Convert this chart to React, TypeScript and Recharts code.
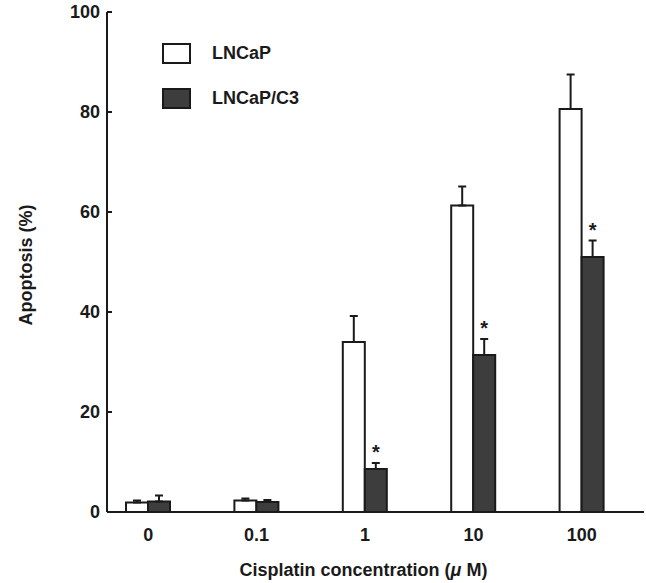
import { BarChart, Bar, XAxis, YAxis, ErrorBar, Legend, LabelList } from "recharts";

const categories = ["0", "0.1", "1", "10", "100"];
const lncap = [1.9, 2.3, 34, 61.3, 80.6];
const lncapErr = [0.4, 0.4, 5.2, 3.8, 6.9];
const lncapC3 = [2.1, 2.0, 8.6, 31.4, 51];
const lncapC3Err = [1.2, 0.4, 1.2, 3.2, 3.3];
const significant = [false, false, true, true, true];
const yTicks = [0, 20, 40, 60, 80, 100];
const seriesNames = ["LNCaP", "LNCaP/C3"];

const data = categories.map((c, i) => ({
  conc: c,
  lncap: lncap[i],
  lncapErr: [0, lncapErr[i]],
  c3: lncapC3[i],
  c3Err: [0, lncapC3Err[i]],
  // invisible stacked piece up to the top of the error bar, carries the star
  starGap: lncapC3Err[i],
  sig: significant[i],
}));

const font = "'Liberation Sans', Arial, sans-serif";
const ink = "#1a1a1a";

function LegendBox({ payload }: any) {
  const items = (payload || []).filter((p: any) => seriesNames.includes(p.value));
  return (
    <div style={{ fontFamily: font, fontWeight: 700, fontSize: 18, color: ink }}>
      {items.map((p: any, i: number) => (
        <div key={i} style={{ display: "flex", alignItems: "center", height: 45 }}>
          <span
            style={{
              display: "inline-block",
              width: 25,
              height: 17,
              background: p.payload.fill,
              border: `2px solid ${ink}`,
              marginRight: 21,
            }}
          />
          <span>{p.value}</span>
        </div>
      ))}
    </div>
  );
}

const Star = (props: any) => {
  const { x, y, width, index } = props;
  if (!data[index].sig) return null;
  return (
    <text x={x + width / 2} y={y - 4} textAnchor="middle" fontFamily={font} fontWeight={700} fontSize={20} fill={ink}>
      *
    </text>
  );
};

export default function App() {
  return (
    <div style={{ position: "absolute", left: 0, top: 0, background: "#fff" }}>
      <BarChart
        width={646}
        height={583}
        data={data}
        margin={{ top: 12, right: 2, bottom: 0, left: 0 }}
        barSize={22}
        barGap={0}
      >
        <XAxis
          dataKey="conc"
          height={71}
          padding={{ left: -13, right: 8 }}
          tickLine={false}
          tickSize={0}
          tickMargin={16}
          axisLine={{ stroke: ink, strokeWidth: 2 }}
          tick={{ fontFamily: font, fontWeight: 700, fontSize: 18, fill: ink }}
          label={({ viewBox }: any) => (
            <text
              x={viewBox.x + viewBox.width / 2 - 12}
              y={viewBox.y + 64}
              textAnchor="middle"
              fontFamily={font}
              fontWeight={700}
              fontSize={18}
              fill={ink}
            >
              Cisplatin concentration (<tspan fontStyle="italic">μ</tspan> M)
            </text>
          )}
        />
        <YAxis
          width={107}
          domain={[0, 100]}
          ticks={yTicks}
          tickSize={-5}
          tickMargin={12}
          axisLine={{ stroke: ink, strokeWidth: 2 }}
          tickLine={{ stroke: ink, strokeWidth: 2 }}
          tick={{ fontFamily: font, fontWeight: 700, fontSize: 18, fill: ink }}
          label={({ viewBox }: any) => {
            const cx = 26;
            const cy = viewBox.y + viewBox.height / 2 + 3;
            return (
              <text
                x={cx}
                y={cy}
                transform={`rotate(-90, ${cx}, ${cy})`}
                textAnchor="middle"
                dominantBaseline="central"
                fontFamily={font}
                fontWeight={700}
                fontSize={18}
                fill={ink}
              >
                Apoptosis (%)
              </text>
            );
          }}
        />
        <Legend
          layout="vertical"
          align="center"
          verticalAlign="middle"
          wrapperStyle={{ left: 162, top: 31, width: 200 }}
          content={<LegendBox />}
        />
        <Bar dataKey="lncap" name="LNCaP" stackId="lncap" fill="#ffffff" stroke={ink} strokeWidth={2} isAnimationActive={false}>
          <ErrorBar dataKey="lncapErr" width={4} stroke={ink} strokeWidth={2} isAnimationActive={false} />
        </Bar>
        <Bar dataKey="c3" name="LNCaP/C3" stackId="c3" fill="#3d3d3d" stroke={ink} strokeWidth={2} isAnimationActive={false}>
          <ErrorBar dataKey="c3Err" width={4} stroke={ink} strokeWidth={2} isAnimationActive={false} />
        </Bar>
        <Bar dataKey="starGap" stackId="c3" fill="none" stroke="none" legendType="none" isAnimationActive={false}>
          <LabelList dataKey="starGap" content={<Star />} />
        </Bar>
      </BarChart>
    </div>
  );
}
